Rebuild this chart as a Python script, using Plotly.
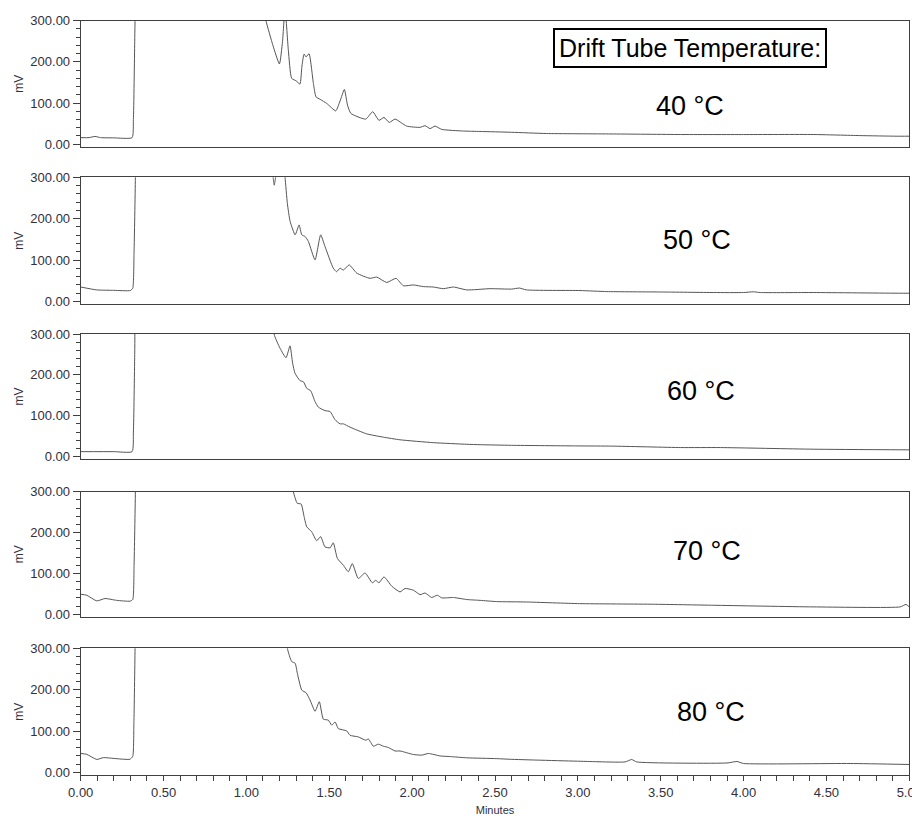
import plotly.graph_objects as go

# Detector response (mV) vs retention time (min) at each drift tube temperature
temps = ["40 °C", "50 °C", "60 °C", "70 °C", "80 °C"]

t_40 = [0, 0.05, 0.086, 0.12, 0.2, 0.31, 0.318, 0.326, 0.335, 0.36, 0.6, 0.9, 1.05, 1.09,
        1.118, 1.16, 1.199, 1.218, 1.233, 1.253, 1.273, 1.30, 1.323, 1.335, 1.348, 1.36,
        1.378, 1.404, 1.42, 1.445, 1.485, 1.539, 1.565, 1.591, 1.61, 1.63, 1.72, 1.762,
        1.80, 1.83, 1.862, 1.897, 1.967, 2.048, 2.078, 2.108, 2.138, 2.179, 2.31, 2.41,
        2.6, 2.81, 3.2, 3.62, 4.0, 4.42, 4.7, 4.92, 5.0]
mv_40 = [16, 16, 19, 16, 15.5, 16, 60, 250, 500, 1200, 2000, 1200, 500, 360,
         300, 240, 195, 250, 330, 228, 160, 154, 146, 190, 219, 212,
         220, 148, 115, 109, 99, 81, 105, 133, 95, 75, 61, 79,
         58, 65, 53, 61, 44, 41, 45, 38, 44, 36, 32, 31,
         29, 26, 25, 23.6, 23.5, 23.6, 21, 19.5, 19.5]

t_50 = [0, 0.097, 0.2, 0.30, 0.314, 0.322, 0.33, 0.34, 0.5, 0.8, 1.0, 1.1, 1.15, 1.162,
        1.168, 1.175, 1.19, 1.21, 1.233, 1.247, 1.264, 1.294, 1.318, 1.334, 1.354, 1.374,
        1.414, 1.448, 1.474, 1.524, 1.544, 1.565, 1.585, 1.62, 1.666, 1.746, 1.786, 1.847,
        1.903, 1.947, 2.007, 2.068, 2.128, 2.188, 2.249, 2.33, 2.47, 2.6, 2.647, 2.69,
        3.013, 3.174, 3.5, 3.82, 4.0, 4.06, 4.1, 4.42, 4.945, 5.0]
mv_50 = [35, 28, 27, 26.5, 32, 120, 300, 700, 1500, 2000, 1500, 800, 400, 297,
         281, 297, 340, 380, 300, 237, 193, 161, 185, 161, 157, 145,
         100.5, 161, 133, 80.5, 72, 80.5, 76, 88.5, 68.5, 56, 59, 46,
         56, 38, 40, 36, 35, 31, 35, 28, 31, 30, 32.5, 28,
         26.5, 24, 23, 21.7, 21.7, 23.5, 21.7, 21.7, 20, 20]

t_60 = [0, 0.2, 0.31, 0.318, 0.326, 0.335, 0.5, 0.8, 1.0, 1.12, 1.167, 1.203, 1.239,
        1.263, 1.279, 1.293, 1.323, 1.344, 1.364, 1.388, 1.414, 1.434, 1.474, 1.505,
        1.535, 1.565, 1.585, 1.625, 1.726, 1.826, 1.927, 2.128, 2.33, 2.41, 2.6, 3.0,
        3.21, 3.62, 3.86, 4.42, 5.0]
mv_60 = [12, 12, 12, 60, 250, 600, 1500, 2000, 1500, 600, 300, 265, 242,
         271, 228, 204, 186, 183, 167, 161, 134.5, 121, 112.5, 110,
         90, 80, 80, 72, 55.5, 47.5, 41, 34, 30, 29, 27.5, 26,
         25.5, 22, 22, 18, 16.4]

t_70 = [0, 0.036, 0.097, 0.147, 0.217, 0.297, 0.314, 0.322, 0.33, 0.34, 0.5, 0.8, 1.0,
        1.15, 1.25, 1.283, 1.307, 1.33, 1.348, 1.364, 1.394, 1.424, 1.448, 1.474, 1.505,
        1.524, 1.549, 1.585, 1.615, 1.639, 1.675, 1.716, 1.76, 1.78, 1.80, 1.83, 1.877,
        1.927, 1.957, 2.007, 2.048, 2.078, 2.118, 2.152, 2.179, 2.249, 2.33, 2.41, 2.51,
        2.69, 3.01, 3.456, 3.82, 4.42, 4.945, 4.98, 5.0]
mv_70 = [49, 46.6, 32.7, 38.5, 34, 32, 36, 120, 300, 700, 1500, 2000, 1500,
         800, 400, 300, 271.5, 270, 239, 214, 202, 180, 190, 165, 162.6,
         175, 136.6, 120, 104, 124, 87.5, 101, 77, 83, 77, 91.5, 68.7,
         54.7, 63, 59, 48, 52, 41, 46.6, 40, 41, 36, 34, 31,
         30, 26, 24.5, 22, 18, 18, 24, 18]

t_80 = [0, 0.036, 0.097, 0.137, 0.2, 0.297, 0.314, 0.321, 0.328, 0.34, 0.5, 0.8, 1.0,
        1.15, 1.22, 1.247, 1.273, 1.294, 1.307, 1.334, 1.36, 1.384, 1.414, 1.44, 1.464,
        1.494, 1.515, 1.535, 1.555, 1.605, 1.625, 1.675, 1.72, 1.736, 1.766, 1.796, 1.826,
        1.856, 1.897, 1.927, 2.007, 2.058, 2.098, 2.169, 2.23, 2.33, 2.51, 2.59, 3.033,
        3.285, 3.325, 3.355, 3.9, 3.96, 4.0, 4.643, 5.0]
mv_80 = [46, 44, 31.5, 36, 34, 32, 39, 120, 300, 700, 1500, 2000, 1500,
         800, 400, 300, 268, 264, 240, 199, 192.6, 175, 148, 171, 129,
         126.5, 114.4, 122, 106, 100.6, 90, 86, 78, 81, 63.6, 68.5, 63.6,
         60.5, 52, 52, 43.5, 42, 46, 40, 38.5, 35.5, 33.5, 32, 27,
         25.6, 31.4, 25.6, 23, 26.6, 21.8, 21.8, 19.4]

series_t = [t_40, t_50, t_60, t_70, t_80]
series_mv = [mv_40, mv_50, mv_60, mv_70, mv_80]

y_tick_vals = [0, 100, 200, 300]
y_tick_text = ["0.00", "100.00", "200.00", "300.00"]
x_tick_vals = [0, 0.5, 1.0, 1.5, 2.0, 2.5, 3.0, 3.5, 4.0, 4.5, 5.0]
x_tick_text = ["0.00", "0.50", "1.00", "1.50", "2.00", "2.50", "3.00", "3.50", "4.00", "4.50", "5.00"]

W, H = 912, 816
FONT = "Liberation Sans, Arial, sans-serif"
TICK_COLOR = "#30303e"
FRAME = "#404040"
TRACE = "#555555"

# panel frames in pixels (top, bottom); shared left/right
panel_px = [(20.7, 146.7), (177.3, 304.0), (334.0, 459.0), (491.7, 616.7), (648.3, 775.0)]
left_px, right_px = 80.7, 909.3

fig = go.Figure()
layout = dict(
    template="none",
    width=W, height=H,
    margin=dict(l=0, r=0, t=0, b=0, autoexpand=False),
    paper_bgcolor="white", plot_bgcolor="white",
    showlegend=False,
    font=dict(family=FONT, color=TICK_COLOR, size=13),
)

n = len(temps)
for i in range(n):
    k = i + 1
    top, bot = panel_px[i]
    xa = "x" if k == 1 else f"x{k}"
    ya = "y" if k == 1 else f"y{k}"
    fig.add_trace(go.Scatter(
        x=series_t[i], y=series_mv[i], mode="lines",
        line=dict(color=TRACE, width=1, shape="spline", smoothing=0.5),
        xaxis=xa, yaxis=ya, hoverinfo="skip",
    ))
    last = (k == n)
    layout[f"xaxis{k}" if k > 1 else "xaxis"] = dict(
        domain=[left_px / W, right_px / W],
        anchor=ya, range=[0, 5], automargin=False,
        showline=True, mirror=True, linecolor=FRAME, linewidth=1,
        showgrid=False, zeroline=False,
        tickmode="array", tickvals=x_tick_vals, ticktext=x_tick_text,
        ticks="outside" if last else "", ticklen=5, tickcolor=FRAME,
        showticklabels=last, ticklabeloverflow="allow",
        tickfont=dict(size=13, color=TICK_COLOR),
        minor=dict(tickmode="linear", tick0=0, dtick=0.1, ticks="outside" if last else "",
                   ticklen=5, tickcolor=FRAME, showgrid=False),
        title=dict(text="Minutes" if last else "", font=dict(size=11, color=TICK_COLOR),
                   standoff=7),
    )
    layout[f"yaxis{k}" if k > 1 else "yaxis"] = dict(
        domain=[1 - bot / H, 1 - top / H],
        anchor=xa, range=[-6, 300], automargin=False,
        showline=True, mirror=True, linecolor=FRAME, linewidth=1,
        showgrid=False, zeroline=False,
        tickmode="array", tickvals=y_tick_vals, ticktext=y_tick_text,
        ticks="outside", ticklen=7, tickcolor=FRAME, ticklabeloverflow="allow",
        tickfont=dict(size=13, color=TICK_COLOR),
        minor=dict(tickmode="linear", tick0=0, dtick=20, ticks="outside",
                   ticklen=4, tickcolor=FRAME, showgrid=False),
        title=dict(text="mV", font=dict(size=12, color=TICK_COLOR), standoff=4),
    )

fig.update_layout(**layout)

# temperature labels, centred in each panel's right half
label_pos = [(3.677, 92.5), (3.72, 148.8), (3.744, 160.6), (3.78, 154.5), (3.804, 145.9)]
for i, txt in enumerate(temps):
    k = i + 1
    fig.add_annotation(
        x=label_pos[i][0], y=label_pos[i][1],
        xref="x" if k == 1 else f"x{k}", yref="y" if k == 1 else f"y{k}",
        text=txt, showarrow=False,
        font=dict(family=FONT, size=27, color="black"),
    )

fig.add_annotation(
    x=3.677, y=234.8, xref="x", yref="y",
    text="Drift Tube Temperature:", showarrow=False,
    font=dict(family=FONT, size=25, color="black"),
    bordercolor="black", borderwidth=2, borderpad=4, bgcolor="white",
)

fig.write_html("out.html")
